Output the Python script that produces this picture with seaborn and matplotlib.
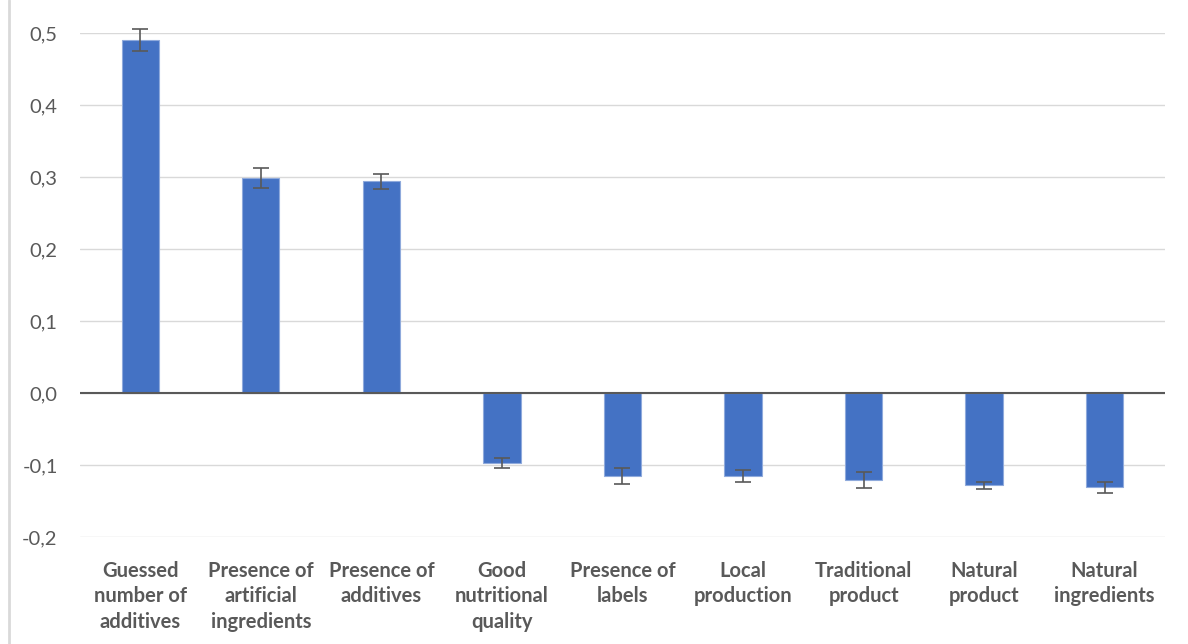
import matplotlib.pyplot as plt
import seaborn as sns
import pandas as pd
import numpy as np
from matplotlib.ticker import FuncFormatter
from matplotlib.lines import Line2D

categories = ["Guessed\nnumber of\nadditives", "Presence of\nartificial\ningredients",
              "Presence of\nadditives", "Good\nnutritional\nquality", "Presence of\nlabels",
              "Local\nproduction", "Traditional\nproduct", "Natural\nproduct",
              "Natural\ningredients"]
values = [0.490, 0.299, 0.294, -0.097, -0.115, -0.115, -0.121, -0.128, -0.131]
errors = [0.015, 0.014, 0.010, 0.007, 0.011, 0.008, 0.011, 0.005, 0.008]
yticks = [-0.2, -0.1, 0.0, 0.1, 0.2, 0.3, 0.4, 0.5]

df = pd.DataFrame({"cat": categories, "val": values, "err": errors})

sns.set_theme(style="white")
plt.rcParams['font.family'] = ['Lato', 'DejaVu Sans']

fig = plt.figure(figsize=(11.88, 6.44), dpi=100)
ax = fig.add_axes([0.0673, 0.1661, 0.9133, 0.7827])

sns.barplot(data=df, x="cat", y="val", color="#4472C4", saturation=1,
            width=0.31, edgecolor="#8FAADC", linewidth=0.8, ax=ax, zorder=2)
eb = ax.errorbar(np.arange(len(df)), df["val"], yerr=df["err"], fmt="none",
                 ecolor="#595959", elinewidth=1.2, capsize=6, capthick=1.2, zorder=3)
for part in eb.lines[1] + eb.lines[2]:
    part.set_clip_on(False)

ax.set_ylim(-0.2, 0.5)
ax.set_xlim(-0.5, len(df) - 0.5)
ax.set_yticks(yticks)
ax.yaxis.set_major_formatter(FuncFormatter(lambda v, p: f"{v:.1f}".replace(".", ",")))
ax.grid(axis="y", color="#D9D9D9", linewidth=1, zorder=0)
ax.set_axisbelow(True)
ax.axhline(0, color="#595959", linewidth=1.5, zorder=4)
for s in ax.spines.values():
    s.set_visible(False)

ax.set_xlabel("")
ax.set_ylabel("")
ax.tick_params(axis="y", length=0, pad=16, labelsize=14.5, labelcolor="#595959")
ax.tick_params(axis="x", length=0, pad=17, labelsize=14.5, labelcolor="#595959")
for lbl in ax.get_xticklabels():
    lbl.set_fontweight("bold")
    lbl.set_linespacing(1.35)

# light frame line on the left edge, as in the original export
fig.add_artist(Line2D([9 / 1188, 9 / 1188], [0, 1], color="#D9D9D9", linewidth=2,
                      transform=fig.transFigure))

plt.savefig("out.png", dpi=100)
